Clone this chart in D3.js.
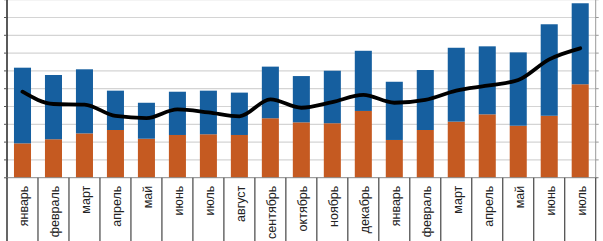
<!DOCTYPE html>
<html><head><meta charset="utf-8">
<script src="https://cdn.jsdelivr.net/npm/d3@7/dist/d3.min.js"></script>
<style>body{margin:0;background:#fff;}svg{display:block;}</style>
</head><body>
<svg id="c" width="603" height="241"></svg>
<script>
const categories = ["январь","февраль","март","апрель","май","июнь","июль","август","сентябрь","октябрь","ноябрь","декабрь","январь","февраль","март","апрель","май","июнь","июль"];
const orangeValues = [1.93,2.16,2.49,2.68,2.19,2.40,2.44,2.40,3.34,3.11,3.06,3.75,2.12,2.68,3.15,3.56,2.92,3.48,5.25];
const totalValues  = [6.18,5.77,6.09,4.89,4.21,4.83,4.89,4.78,6.24,5.71,6.01,7.13,5.39,6.05,7.30,7.38,7.04,8.62,9.80];
const lineValues   = [4.83,4.14,4.11,3.47,3.35,3.84,3.67,3.45,4.40,3.93,4.25,4.65,4.21,4.37,4.89,5.17,5.49,6.65,7.27];
const yTicks = [0,1,2,3,4,5,6,7,8,9,10];

const svg = d3.select("#c");
const L = 7, R = 595.7, T = -0.3, B = 177.7;
const x = d3.scaleBand().domain(d3.range(categories.length)).range([L, R]).paddingInner(0.45).paddingOuter(0.225);
const xb = d3.scaleBand().domain(d3.range(categories.length)).range([L, R]);
const y = d3.scaleLinear().domain([0, 10]).range([B, T]);

// gridlines
svg.append("g").selectAll("line").data(yTicks.filter(d=>d>0)).join("line")
  .attr("x1", L).attr("x2", R).attr("y1", d=>y(d)).attr("y2", d=>y(d))
  .attr("stroke", "#d4d4d4").attr("stroke-width", 1.2);

// bars
const g = svg.append("g");
g.selectAll("rect.o").data(orangeValues).join("rect")
  .attr("x", (d,i)=>x(i)).attr("width", x.bandwidth())
  .attr("y", d=>y(d)).attr("height", d=>y(0)-y(d)).attr("fill", "#c55a21");
g.selectAll("rect.b").data(totalValues).join("rect")
  .attr("x", (d,i)=>x(i)).attr("width", x.bandwidth())
  .attr("y", d=>y(d)).attr("height", (d,i)=>y(orangeValues[i])-y(d)).attr("fill", "#165f9f");

// line
const line = d3.line().x((d,i)=>xb(i)+xb.bandwidth()/2).y(d=>y(d)).curve(d3.curveMonotoneX);
svg.append("path").datum(lineValues).attr("d", line)
  .attr("fill","none").attr("stroke","#000").attr("stroke-width",3.8).attr("stroke-linejoin","round").attr("stroke-linecap","round");

// left axis
svg.append("line").attr("x1",L).attr("x2",L).attr("y1",0).attr("y2",B).attr("stroke","#000").attr("stroke-width",1.3);
svg.append("g").selectAll("line").data(yTicks).join("line")
  .attr("x1",L-3).attr("x2",L).attr("y1",d=>y(d)).attr("y2",d=>y(d)).attr("stroke","#555");
// right axis
svg.append("line").attr("x1",R).attr("x2",R).attr("y1",0).attr("y2",B).attr("stroke","#999").attr("stroke-width",1);
svg.append("g").selectAll("line").data(yTicks).join("line")
  .attr("x1",R).attr("x2",R+3).attr("y1",d=>y(d)).attr("y2",d=>y(d)).attr("stroke","#999");

// baseline
svg.append("line").attr("x1",L-3).attr("x2",R+2).attr("y1",B).attr("y2",B).attr("stroke","#888").attr("stroke-width",1);

// category separators
const seps = d3.range(categories.length+1).map(i => i < categories.length ? xb(i) : R);
svg.append("g").selectAll("line").data(seps).join("line")
  .attr("x1",d=>d).attr("x2",d=>d).attr("y1",B).attr("y2",241)
  .attr("stroke",(d,i)=> (i===0) ? "#000" : "#444").attr("stroke-width",1.2);

// labels
svg.append("g").selectAll("text").data(categories).join("text")
  .attr("transform",(d,i)=>`translate(${xb(i)+xb.bandwidth()/2+6},${B+8}) rotate(-90)`)
  .attr("text-anchor","end")
  .attr("font-family","Liberation Sans, Arial, sans-serif").attr("font-size",12.5)
  .attr("fill","#222").text(d=>d);
</script>
</body></html>
